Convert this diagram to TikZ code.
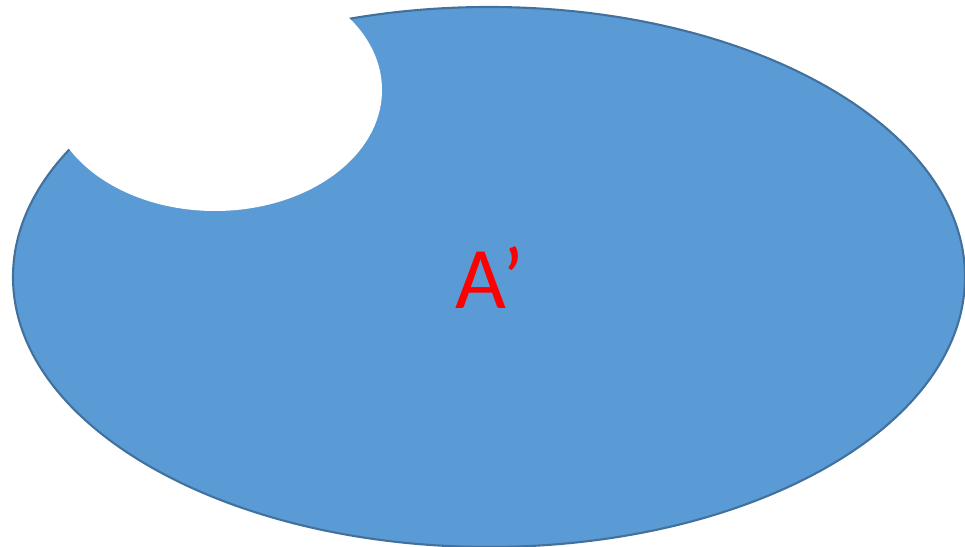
\documentclass[tikz,border=0pt]{standalone}
\usepackage{fontspec}
\setmainfont{Carlito}
\definecolor{setblue}{HTML}{5B9BD5}
\definecolor{setedge}{HTML}{41719C}
\tikzset{
  setfill/.style={fill=setblue, draw=setedge, line width=1.2pt},
  setlabel/.style={text=red, font=\fontsize{50}{60}\selectfont}
}
\begin{document}
\begin{tikzpicture}[x=0.02cm, y=-0.02cm]
    \useasboundingbox (0,0) rectangle (965,547);
    % Set A'
    \draw[setfill] (489,277) ellipse (476 and 270);
    % Removed part
    \fill[white] (215,90) ellipse (167 and 121);
    % Label
    \node[setlabel] (lbl) at (490,278) {A’};
\end{tikzpicture}
\end{document}
